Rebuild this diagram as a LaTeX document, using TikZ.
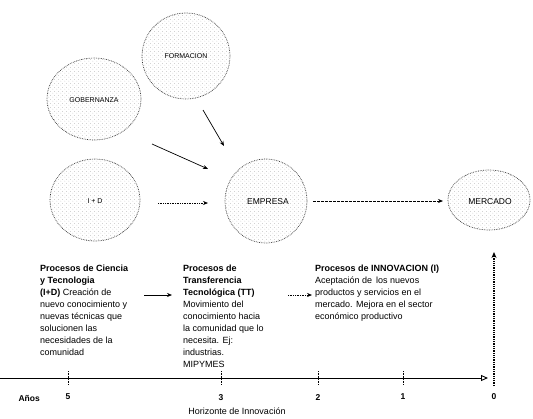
\documentclass[tikz,border=0pt]{standalone}
\usepackage{fontspec}
\setmainfont{Liberation Sans}
\usetikzlibrary{arrows.meta,shapes.geometric,patterns.meta}

\tikzdeclarepattern{
  name=stipple,
  type=uncolored,
  bounding box={(0pt,0pt) and (4pt,4pt)},
  tile size={(4pt,4pt)},
  code={\fill (1pt,1pt) circle (0.38pt); \fill (3pt,3pt) circle (0.38pt);}
}

\begin{document}
\begin{tikzpicture}[x=1pt,y=-1pt,
  blob/.style={ellipse, draw=black!80, densely dotted, line width=0.7pt,
    pattern={stipple}, pattern color=black!50, inner sep=0pt},
  blobtxt/.style={font=\fontsize{7}{8}\selectfont},
  solidarr/.style={line width=0.7pt, -{Stealth[length=5pt,width=4pt]}},
  dotarr/.style={line width=0.7pt, densely dotted, -{Stealth[length=5pt,width=4pt]}},
  dasharr/.style={line width=0.7pt, dashed, dash pattern=on 3pt off 1pt, -{Stealth[length=5pt,width=4pt]}},
  block/.style={anchor=north west, inner sep=0pt, align=left,
    font=\fontsize{9}{12}\selectfont},
  tick/.style={densely dotted, line width=0.6pt},
  lab/.style={font=\fontsize{8.5}{10}\selectfont\bfseries}
]
\useasboundingbox (0,0) rectangle (533,418);

% circles
\node[blob, minimum width=88pt, minimum height=86pt] (form) at (186,56) {};
\node[blobtxt] (formt) at (186,56) {FORMACION};
\node[blob, minimum width=94pt, minimum height=82pt] (gob) at (94,99) {};
\node[blobtxt] (gobt) at (94,100) {GOBERNANZA};
\node[blob, minimum width=90pt, minimum height=82pt] (id) at (95,200) {};
\node[blobtxt] (idt) at (95,201) {I + D};
\node[blob, minimum width=82pt, minimum height=84pt] (emp) at (266,201) {};
\node[font=\fontsize{8.5}{10}\selectfont] (empt) at (268,202) {EMPRESA};
\node[blob, minimum width=82pt, minimum height=60pt] (merc) at (489,200) {};
\node[font=\fontsize{8.5}{10}\selectfont] (merct) at (490,202) {MERCADO};

% arrows into EMPRESA
\coordinate (f1) at (203,110);
\coordinate (f2) at (224,146);
\draw[solidarr] (f1) -- (f2);
\coordinate (g1) at (152,144);
\coordinate (g2) at (208,169);
\draw[solidarr] (g1) -- (g2);
\coordinate (i1) at (158,203);
\coordinate (i2) at (208,203);
\draw[dotarr] (i1) -- (i2);
\coordinate (e1) at (313,201);
\coordinate (e2) at (443,201);
\draw[dasharr] (e1) -- (e2);

% text blocks
\node[block] (b1) at (40,265) {\textbf{Procesos de Ciencia}\\\textbf{y Tecnologia}\\\textbf{(I+D)} Creación de\\nuevo conocimiento y\\nuevas técnicas que\\solucionen las\\necesidades de la\\comunidad};
\node[block] (b2) at (183,265) {\textbf{Procesos de}\\\textbf{Transferencia}\\\textbf{Tecnológica (TT)}\\Movimiento del\\conocimiento hacia\\la comunidad que lo\\necesita. Ej:\\industrias.\\MIPYMES};
\node[block] (b3) at (315,265) {\textbf{Procesos de INNOVACION (I)}\\Aceptación de \,los nuevos\\productos y servicios en el\\mercado. Mejora en el sector\\económico productivo};

\coordinate (a1) at (144,295);
\coordinate (a2) at (172,295);
\draw[solidarr] (a1) -- (a2);
\coordinate (d1) at (288,295);
\coordinate (d2) at (312,295);
\draw[dotarr] (d1) -- (d2);

% axis
\coordinate (ax0) at (0,378);
\coordinate (ax1) at (488,378);
\draw[line width=0.9pt, -{Triangle[open,length=7pt,width=6pt]}] (ax0) -- (ax1);
\foreach \x/\n in {68/t5,221/t3,318/t2,403/t1}{
  \coordinate (\n a) at (\x,371);
  \coordinate (\n b) at (\x,385);
  \draw[tick] (\n a) -- (\n b);
}
% vertical arrow
\coordinate (v0) at (494,386);
\coordinate (v1) at (494,252);
\draw[densely dotted, line width=1.3pt, -{Stealth[length=6pt,width=5pt]}] (v0) -- (v1);

% labels
\node[lab, anchor=west] (anos) at (15,398) {Años};
\node[lab] (l5) at (68,397) {5};
\node[lab] (l3) at (221,398) {3};
\node[lab] (l2) at (318,398) {2};
\node[lab] (l1) at (403,397) {1};
\node[lab] (l0) at (494,397) {0};
\node[font=\fontsize{9}{10}\selectfont] (hor) at (237,411) {Horizonte de Innovación};
\end{tikzpicture}
\end{document}
